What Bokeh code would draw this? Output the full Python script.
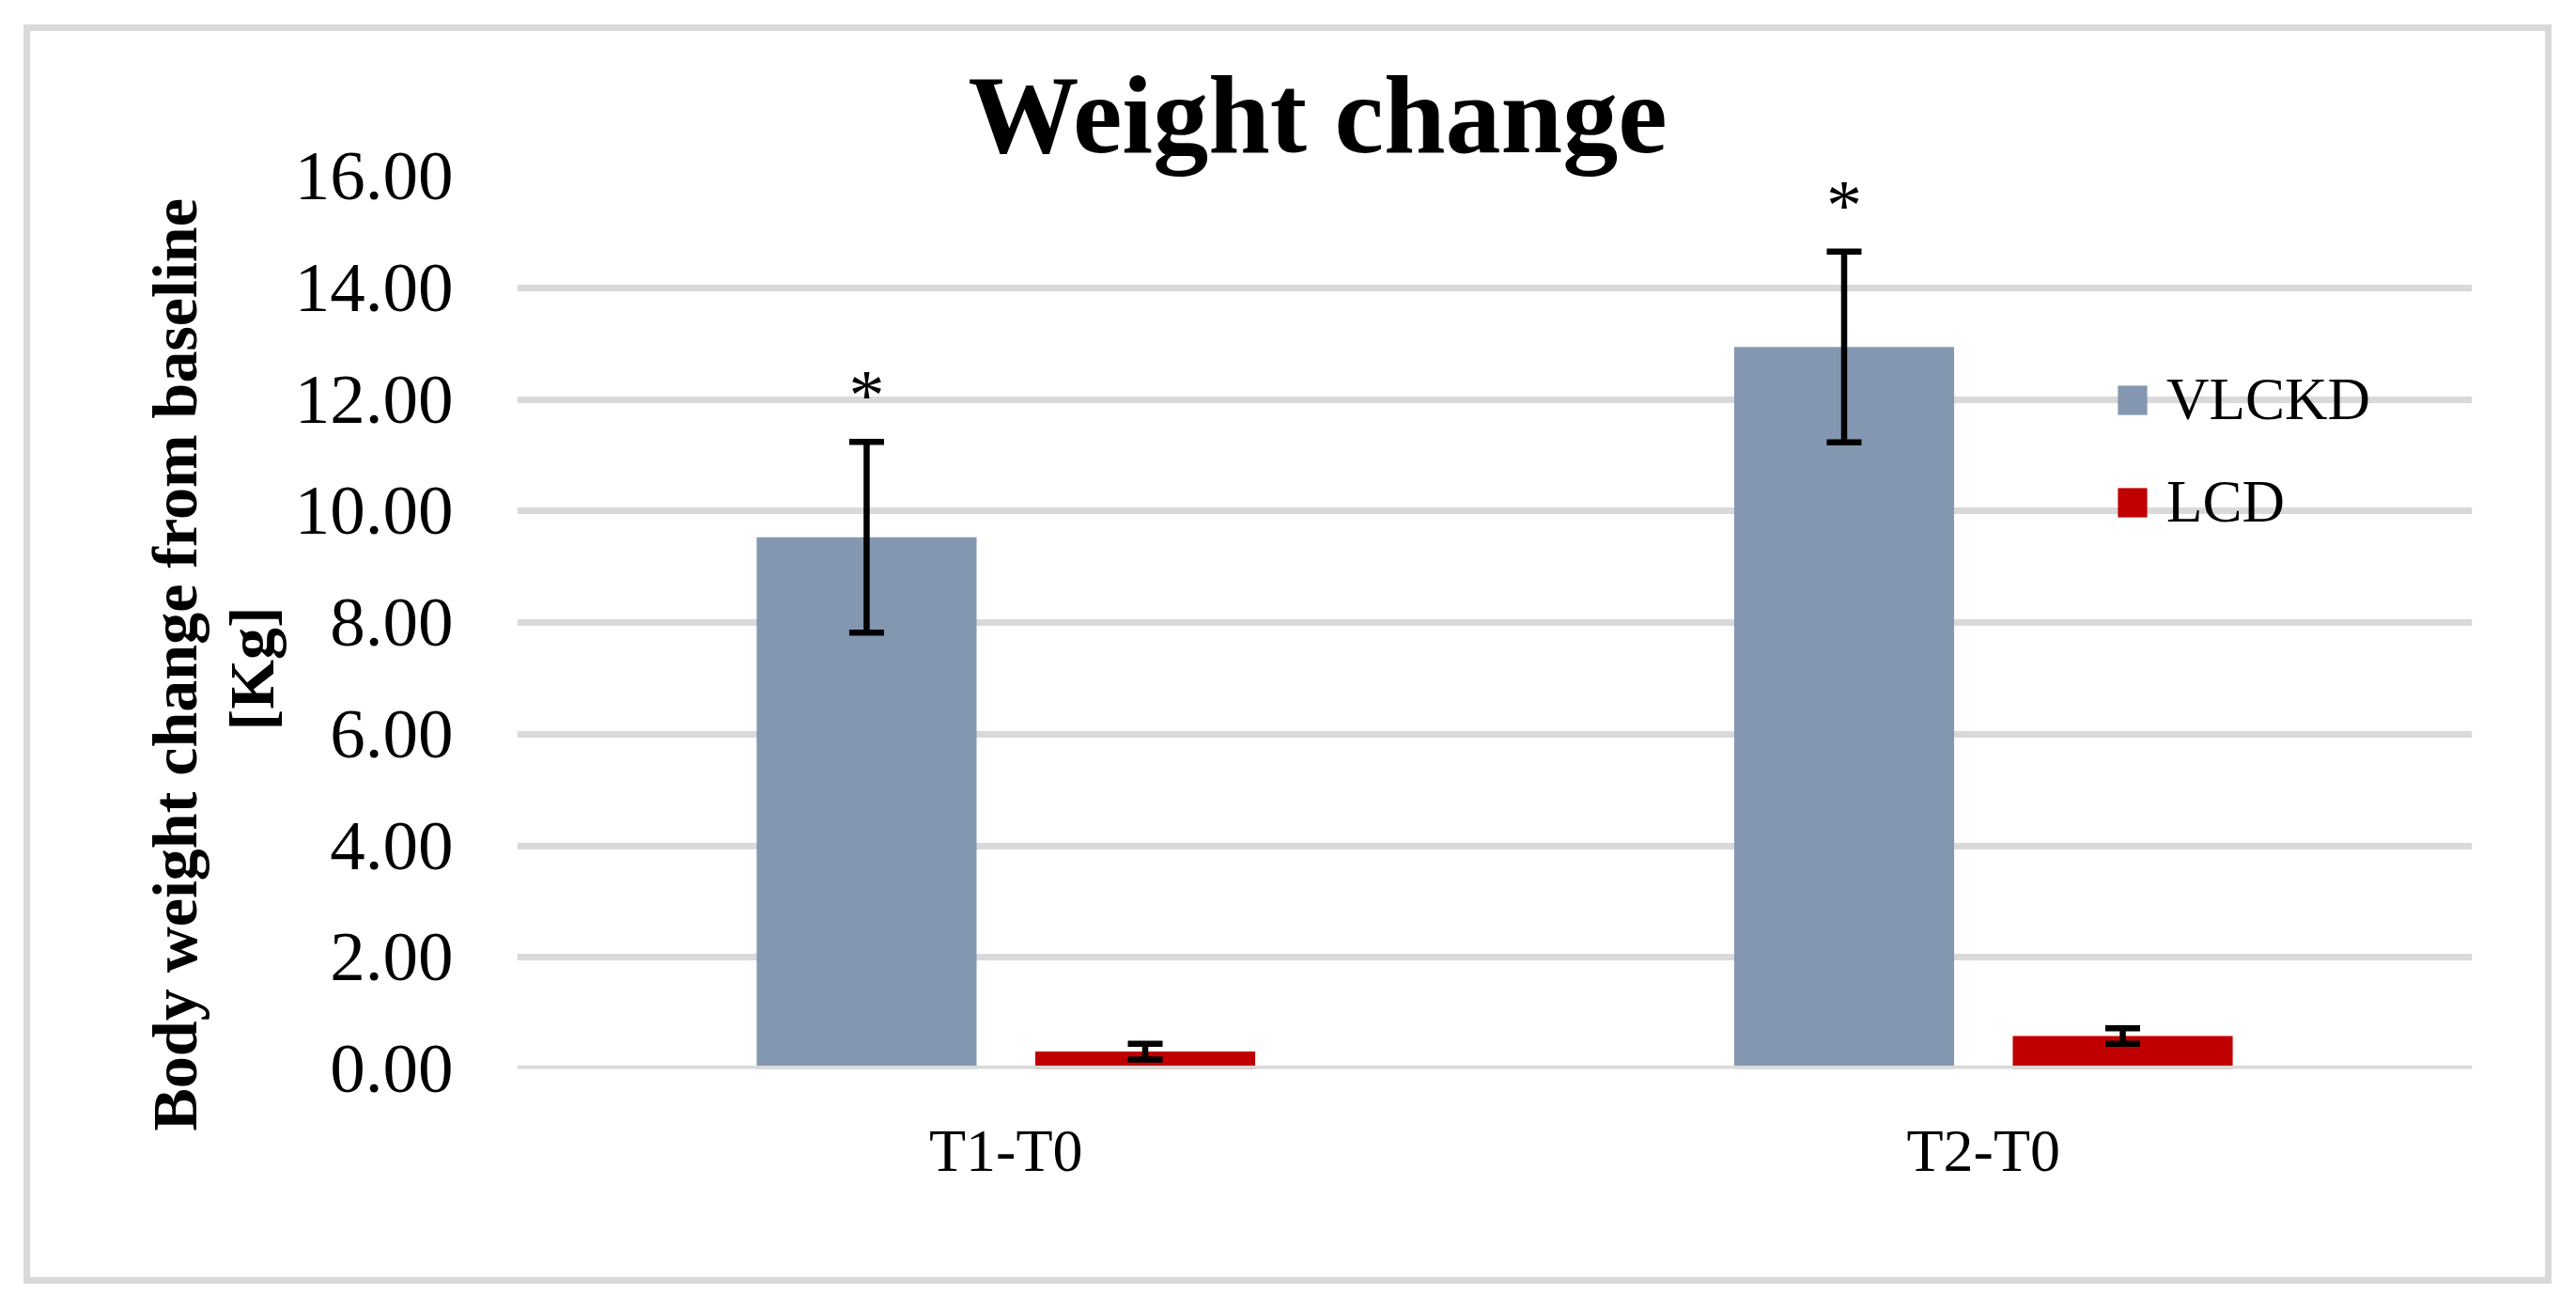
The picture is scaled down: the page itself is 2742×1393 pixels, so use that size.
from bokeh.plotting import figure
from bokeh.models import (ColumnDataSource, FactorRange, Range1d, FixedTicker,
                          PrintfTickFormatter, Whisker, TeeHead, Legend, LegendItem,
                          Title, Span)
from bokeh.transform import dodge
from bokeh.core.properties import value
from bokeh.embed import file_html
from bokeh.resources import INLINE

# ---- data ----
categories = ["T1-T0", "T2-T0"]
series_names = ["VLCKD", "LCD"]
vlckd_mean = [9.53, 12.94]
vlckd_err = [1.71, 1.71]
lcd_mean = [0.31, 0.59]
lcd_err = [0.14, 0.14]
significance = ["*", "*"]
y_ticks = [0, 2, 4, 6, 8, 10, 12, 14, 16]
title_text = "Weight change"
y_label_line1 = "Body weight change from baseline"
y_label_line2 = "[Kg]"

# ---- styles ----
FONT = "Liberation Serif"
C_VLCKD = "#8497B0"
C_LCD = "#C00000"
GRID = "#D9D9D9"
OFF = 0.1425
BW = 0.225

src = ColumnDataSource(dict(
    cat=categories,
    vlckd=vlckd_mean,
    vlckd_lo=[m - e for m, e in zip(vlckd_mean, vlckd_err)],
    vlckd_hi=[m + e for m, e in zip(vlckd_mean, vlckd_err)],
    lcd=lcd_mean,
    lcd_lo=[m - e for m, e in zip(lcd_mean, lcd_err)],
    lcd_hi=[m + e for m, e in zip(lcd_mean, lcd_err)],
    star=significance,
))

p = figure(x_range=FactorRange(*categories), y_range=Range1d(0, y_ticks[-1]),
           width=2677, height=1326, output_backend="svg", toolbar_location=None,
           min_border_left=518, min_border_right=78, min_border_top=154,
           min_border_bottom=222, outline_line_color=None,
           background_fill_color="white", border_fill_color="white")
p.margin = (33, 0, 0, 32)
p.styles = {"outline": "7px solid #D9D9D9"}

# title
p.title.text = title_text
p.title.align = "left"
p.title.offset = 480
p.title.standoff = 0
p.title.text_font = FONT
p.title.text_font_size = "118px"
p.title.text_font_style = "bold"
p.title.text_color = "black"

# y label (two lines as left titles)
t2 = Title(text=y_label_line2, align="left", offset=360, standoff=9,
           text_font=FONT, text_font_size="68px", text_font_style="bold",
           text_color="black")
p.add_layout(t2, "left")
t1 = Title(text=y_label_line1, align="left", offset=-66, standoff=0,
           text_font=FONT, text_font_size="68px", text_font_style="bold",
           text_color="black")
p.add_layout(t1, "left")

# bars
r1 = p.vbar(x=dodge("cat", -OFF, range=p.x_range), top="vlckd", width=BW,
            source=src, fill_color=C_VLCKD, line_color=None)
r2 = p.vbar(x=dodge("cat", OFF, range=p.x_range), top="lcd", width=BW,
            source=src, fill_color=C_LCD, line_color=None)

# error bars
for col, off in (("vlckd", -OFF), ("lcd", OFF)):
    w = Whisker(base=dodge("cat", off, range=p.x_range), upper=col + "_hi",
                lower=col + "_lo", source=src, line_color="black", line_width=6.5,
                level="annotation",
                upper_head=TeeHead(size=37, line_color="black", line_width=6.5),
                lower_head=TeeHead(size=37, line_color="black", line_width=6.5))
    p.add_layout(w)

# significance asterisks
p.text(x=dodge("cat", -OFF, range=p.x_range), y="vlckd_hi", text="star", source=src,
       text_align="center", text_baseline="alphabetic", y_offset=-50,
       text_font=value(FONT), text_font_size="76px", text_color="black")

# zero line on top
p.add_layout(Span(location=0, dimension="width", line_color=GRID, line_width=7,
                  level="overlay"))

# axes
p.yaxis.ticker = FixedTicker(ticks=y_ticks)
p.yaxis.formatter = PrintfTickFormatter(format="%.2f")
for ax in (p.xaxis[0], p.yaxis[0]):
    ax.axis_line_color = None
    ax.major_tick_line_color = None
    ax.minor_tick_line_color = None
    ax.major_tick_out = 0
    ax.major_tick_in = 0
    ax.major_label_text_font = FONT
    ax.major_label_text_color = "black"
p.yaxis.major_label_text_font_size = "75px"
p.yaxis.major_label_standoff = 68
p.xaxis.major_label_text_font_size = "64px"
p.xaxis.major_label_standoff = 51

p.xgrid.grid_line_color = None
p.ygrid.grid_line_color = GRID
p.ygrid.grid_line_width = 7

legend = Legend(items=[LegendItem(label=series_names[0], renderers=[r1]),
                       LegendItem(label=series_names[1], renderers=[r2])],
                location=(1700, 566), orientation="vertical",
                border_line_color=None, background_fill_alpha=0,
                padding=0, margin=0, spacing=36, glyph_width=39, glyph_height=39,
                label_standoff=17, label_height=72,
                label_text_font=FONT, label_text_font_size="63px",
                label_text_color="black")
p.add_layout(legend)

open("out.html", "w").write(file_html(p, INLINE))
